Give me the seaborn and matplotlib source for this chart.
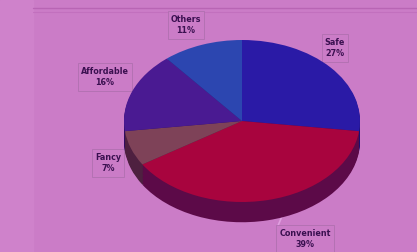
import matplotlib
matplotlib.use('Agg')
import matplotlib.pyplot as plt
import seaborn as sns

# 数据
labels = ['Safe', 'Convenient', 'Fancy', 'Affordable', 'Others']
shares = [27, 39, 7, 16, 11]
colors = ['#2a1aa6', '#a8043e', '#7e4258', '#4a1a92', '#2c46b0']
side_colors = ['#1c0e70', '#5c0a48', '#4e2040', '#300c60', '#1c2c78']

# 标签位置(像素坐标, 左上为原点)
label_pos = [(335, 48), (305, 239), (108, 163), (105, 77), (186, 25)]

sns.set_theme(style='white')
plt.rcParams['font.family'] = ['DejaVu Sans']

fig = plt.figure(figsize=(4.17, 2.52), dpi=100)
fig.patch.set_facecolor('#cb7cc7')

# 背景
bg = fig.add_axes([0, 0, 1, 1])
bg.set_xlim(0, 417)
bg.set_ylim(252, 0)
bg.axis('off')
bg.axvspan(0, 33, color='#cf82cb', zorder=0)
bg.axhline(8, xmin=33 / 417, color='#b865b4', lw=1.0)
bg.axhline(12, xmin=33 / 417, color='#c270be', lw=0.8)

# 饼图 (压扁的椭圆 + 厚度)
cx, cy, rx, ry = 242, 121, 118, 81
thick = 0.25
h_px = ry * (2 + thick)
ax = fig.add_axes([(cx - rx) / 417, (252 - cy - ry - ry * thick) / 252,
                   2 * rx / 417, h_px / 252])
n_layers = 16
for i in range(n_layers, 0, -1):
    d = thick * i / n_layers
    ax.pie(shares, colors=side_colors, startangle=90, counterclock=False,
           center=(0, -d), radius=1, wedgeprops=dict(linewidth=0))
ax.pie(shares, colors=colors, startangle=90, counterclock=False,
       center=(0, 0), radius=1, wedgeprops=dict(linewidth=0))
ax.set_aspect('auto')
ax.set_xlim(-1, 1)
ax.set_ylim(-1 - thick, 1)
ax.axis('off')

# 标签
for name, val, (x, y) in zip(labels, shares, label_pos):
    bg.text(x, y, f'{name}\n{val}%', ha='center', va='center', fontsize=5.8,
            fontweight='bold', color='#3a1050', linespacing=1.4, zorder=5,
            bbox=dict(boxstyle='square,pad=0.4', fc='#cb7cc7', ec='#b070b0', lw=0.6))

# 引导线
bg.plot([283, 277], [214, 228], color='#e0a0e0', lw=1.2, zorder=4)

fig.savefig('out.png', dpi=100, facecolor=fig.get_facecolor())
